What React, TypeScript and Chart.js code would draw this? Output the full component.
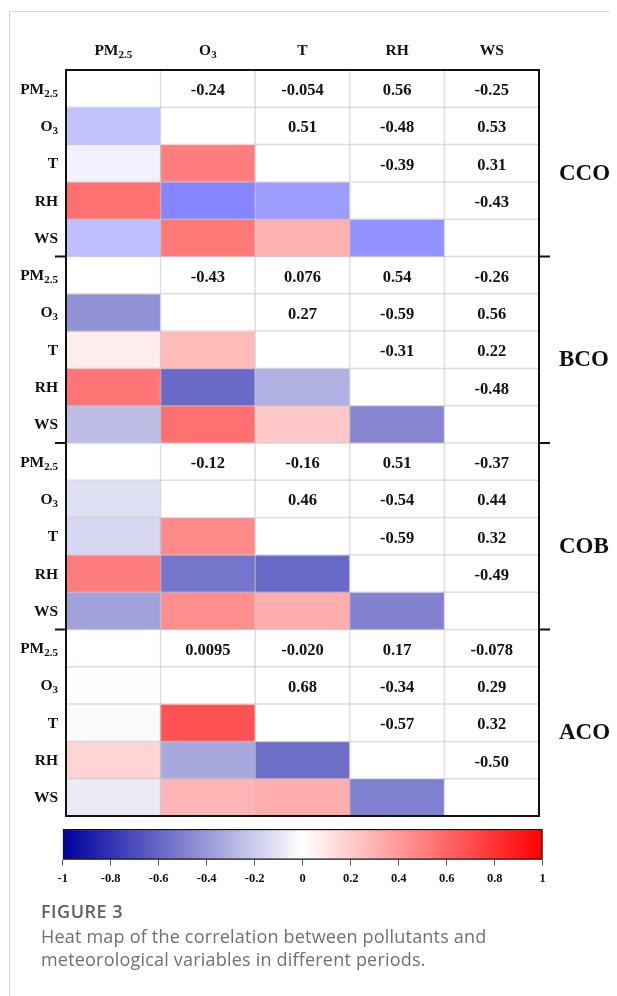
import React, { useEffect, useRef } from "react";
import { Chart, registerables } from "chart.js";
Chart.register(...registerables);

// ---------- data ----------
const variables = ["PM2.5", "O3", "T", "RH", "WS"];
const variableMain = ["PM", "O", "T", "RH", "WS"];
const variableSub = ["2.5", "3", "", "", ""];
const periods = ["CCO", "BCO", "COB", "ACO"];
// upper-triangle pairs, in order:
// (PM,O3) (PM,T) (PM,RH) (PM,WS) (O3,T) (O3,RH) (O3,WS) (T,RH) (T,WS) (RH,WS)
const ccoValues = [-0.24, -0.054, 0.56, -0.25, 0.51, -0.48, 0.53, -0.39, 0.31, -0.43];
const bcoValues = [-0.43, 0.076, 0.54, -0.26, 0.27, -0.59, 0.56, -0.31, 0.22, -0.48];
const cobValues = [-0.12, -0.16, 0.51, -0.37, 0.46, -0.54, 0.44, -0.59, 0.32, -0.49];
const acoValues = [0.0095, -0.02, 0.17, -0.078, 0.68, -0.34, 0.29, -0.57, 0.32, -0.5];
const periodValues = [ccoValues, bcoValues, cobValues, acoValues];
const colorbarTicks = [-1, -0.8, -0.6, -0.4, -0.2, 0, 0.2, 0.4, 0.6, 0.8, 1];
const colorbarTickLabels = ["-1", "-0.8", "-0.6", "-0.4", "-0.2", "0", "0.2", "0.4", "0.6", "0.8", "1"];

// ---------- helpers ----------
const NEG_END_BY_PERIOD = [
  [0, 0, 255],
  [0, 0, 160],
  [0, 0, 160],
  [0, 0, 160],
];
const POS_END = [255, 0, 0];

function mixColor(v: number, p: number) {
  const a = Math.min(1, Math.abs(v));
  const end = v < 0 ? NEG_END_BY_PERIOD[p] : POS_END;
  const c = end.map((e) => Math.round(255 + (e - 255) * a));
  return `rgb(${c[0]},${c[1]},${c[2]})`;
}

function buildMatrix(vals: number[]) {
  const n = variables.length;
  const m: (number | null)[][] = Array.from({ length: n }, () => Array(n).fill(null));
  let k = 0;
  for (let i = 0; i < n; i++) {
    for (let j = i + 1; j < n; j++) {
      m[i][j] = vals[k];
      m[j][i] = vals[k];
      k++;
    }
  }
  return m;
}
const matrices = periodValues.map(buildMatrix);

const SERIF = '"Liberation Serif", "Times New Roman", serif';

function drawSubLabel(
  ctx: CanvasRenderingContext2D,
  main: string,
  sub: string,
  x: number,
  baseline: number,
  align: "right" | "center",
  size: number,
  subSize: number
) {
  ctx.font = `bold ${size}px ${SERIF}`;
  const mw = ctx.measureText(main).width;
  ctx.font = `bold ${subSize}px ${SERIF}`;
  const sw = sub ? ctx.measureText(sub).width : 0;
  const total = mw + sw;
  const start = align === "right" ? x - total : x - total / 2;
  ctx.textAlign = "left";
  ctx.textBaseline = "alphabetic";
  ctx.font = `bold ${size}px ${SERIF}`;
  ctx.fillText(main, start, baseline);
  if (sub) {
    ctx.font = `bold ${subSize}px ${SERIF}`;
    ctx.fillText(sub, start + mw, baseline + 3);
  }
}

const overlayPlugin = {
  id: "heatOverlay",
  afterDatasetsDraw(chart: any) {
    const { ctx, chartArea } = chart;
    const xs = chart.scales.x;
    const ys = chart.scales.y;
    const n = variables.length;
    const colW = xs.getPixelForValue(1) - xs.getPixelForValue(0);
    const colLeft = (j: number) => xs.getPixelForValue(j) - colW / 2;
    const totalRows = periods.length * n;
    ctx.save();

    // light cell grid
    ctx.strokeStyle = "rgba(200,200,200,0.6)";
    ctx.lineWidth = 1.5;
    for (let j = 1; j < n; j++) {
      const x = colLeft(j);
      ctx.beginPath();
      ctx.moveTo(x, chartArea.top);
      ctx.lineTo(x, chartArea.bottom);
      ctx.stroke();
    }
    for (let r = 1; r < totalRows; r++) {
      const y = ys.getPixelForValue(r);
      ctx.beginPath();
      ctx.moveTo(chartArea.left, y);
      ctx.lineTo(chartArea.right, y);
      ctx.stroke();
    }

    // values in upper triangle
    ctx.fillStyle = "#111";
    ctx.font = `bold 16.5px ${SERIF}`;
    ctx.textAlign = "center";
    ctx.textBaseline = "alphabetic";
    matrices.forEach((m, p) => {
      for (let i = 0; i < n; i++) {
        for (let j = i + 1; j < n; j++) {
          const v = m[i][j] as number;
          const r = p * n + i;
          const cy = (ys.getPixelForValue(r) + ys.getPixelForValue(r + 1)) / 2;
          ctx.fillText(v.toPrecision(2), xs.getPixelForValue(j), cy + 6.5);
        }
      }
    });

    // frame
    ctx.strokeStyle = "#111";
    ctx.lineWidth = 2;
    ctx.strokeRect(chartArea.left, chartArea.top, chartArea.right - chartArea.left, chartArea.bottom - chartArea.top);

    // block separators
    for (let p = 1; p < periods.length; p++) {
      const y = ys.getPixelForValue(p * n);
      ctx.beginPath();
      ctx.moveTo(chartArea.left - 11, y);
      ctx.lineTo(chartArea.left, y);
      ctx.moveTo(chartArea.right, y);
      ctx.lineTo(chartArea.right + 11, y);
      ctx.stroke();
    }

    // row labels
    ctx.fillStyle = "#111";
    for (let p = 0; p < periods.length; p++) {
      for (let i = 0; i < n; i++) {
        const r = p * n + i;
        const cy = (ys.getPixelForValue(r) + ys.getPixelForValue(r + 1)) / 2;
        drawSubLabel(ctx, variableMain[i], variableSub[i], chartArea.left - 8, cy + 5, "right", 15.5, 11);
      }
    }
    // column headers
    for (let j = 0; j < n; j++) {
      drawSubLabel(ctx, variableMain[j], variableSub[j], xs.getPixelForValue(j), chartArea.top - 15, "center", 15.5, 11);
    }
    // period labels
    ctx.font = `bold 23px ${SERIF}`;
    ctx.textAlign = "left";
    ctx.textBaseline = "alphabetic";
    periods.forEach((name, p) => {
      const cy = (ys.getPixelForValue(p * n) + ys.getPixelForValue((p + 1) * n)) / 2;
      ctx.fillText(name, chartArea.right + 20, cy + 16.5);
    });
    ctx.restore();
  },
};

function HeatmapCanvas() {
  const ref = useRef<HTMLCanvasElement | null>(null);
  useEffect(() => {
    if (!ref.current) return;
    const n = variables.length;
    const datasets: any[] = [];
    matrices.forEach((m, p) => {
      for (let i = 0; i < n; i++) {
        const r = p * n + i;
        datasets.push({
          label: `${periods[p]}-${variables[i]}`,
          data: variables.map(() => [r, r + 1]),
          backgroundColor: variables.map((_, j) => (j < i ? mixColor(m[i][j] as number, p) : "#ffffff")),
          borderWidth: 0,
          grouped: false,
          barPercentage: 1,
          categoryPercentage: 1,
        });
      }
    });
    const chart = new Chart(ref.current, {
      type: "bar",
      data: { labels: variables, datasets },
      options: {
        animation: false,
        responsive: false,
        events: [],
        layout: { padding: { left: 58, right: 78, top: 62, bottom: 7 } },
        plugins: { legend: { display: false }, tooltip: { enabled: false } },
        scales: {
          x: { type: "category", display: false, offset: true },
          y: { type: "linear", display: false, min: 0, max: periods.length * n, reverse: true },
        },
      },
      plugins: [overlayPlugin],
    } as any);
    return () => chart.destroy();
  }, []);
  return <canvas ref={ref} width={609} height={815} style={{ position: "absolute", left: 0, top: 0 }} />;
}

function ColorbarCanvas() {
  const ref = useRef<HTMLCanvasElement | null>(null);
  useEffect(() => {
    if (!ref.current) return;
    const chart = new Chart(ref.current, {
      type: "bar",
      data: {
        labels: ["r"],
        datasets: [
          {
            data: [[colorbarTicks[0], colorbarTicks[colorbarTicks.length - 1]]],
            backgroundColor: (c: any) => {
              const ch = c.chart;
              if (!ch.chartArea) return "#fff";
              const xs = ch.scales.x;
              const g = ch.ctx.createLinearGradient(xs.getPixelForValue(-1), 0, xs.getPixelForValue(1), 0);
              g.addColorStop(0, "rgb(0,0,160)");
              g.addColorStop(0.5, "rgb(255,255,255)");
              g.addColorStop(1, "rgb(255,0,0)");
              return g;
            },
            borderColor: "#111",
            borderWidth: 1.5,
            borderSkipped: false,
            barPercentage: 1,
            categoryPercentage: 1,
          },
        ],
      },
      options: {
        indexAxis: "y",
        animation: false,
        responsive: false,
        events: [],
        layout: { padding: { left: 54.7, right: 74.3, top: 9, bottom: 9.6 } },
        plugins: { legend: { display: false }, tooltip: { enabled: false } },
        scales: {
          x: {
            type: "linear",
            min: -1,
            max: 1,
            afterBuildTicks: (s: any) => {
              s.ticks = colorbarTicks.map((v) => ({ value: v }));
            },
            ticks: {
              callback: (_v: any, i: number) => colorbarTickLabels[i],
              font: { family: SERIF, size: 12.5, weight: "bold" },
              color: "#111",
              padding: 6,
              maxRotation: 0,
              autoSkip: false,
            },
            grid: { drawOnChartArea: false, drawTicks: true, tickLength: 6, color: "#555", lineWidth: 1 },
            border: { display: false },
          },
          y: { display: false },
        },
      },
    } as any);
    return () => chart.destroy();
  }, []);
  return <canvas ref={ref} width={609} height={80} style={{ position: "absolute", left: 0, top: 812 }} />;
}

export default function App() {
  return (
    <div style={{ position: "relative", width: 609, height: 988 }}>
      <div
        style={{
          position: "absolute",
          left: 1,
          top: 3,
          width: 608,
          height: 985,
          borderTop: "1px solid #d4d4d4",
          borderLeft: "1px solid #d4d4d4",
        }}
      />
      <HeatmapCanvas />
      <ColorbarCanvas />
      <div
        style={{
          position: "absolute",
          left: 33,
          top: 892,
          fontFamily: '"Open Sans", sans-serif',
          color: "#707070",
          fontSize: 18,
          lineHeight: "23px",
          letterSpacing: "0.2px",
        }}
      >
        <div style={{ fontWeight: 600, color: "#606060", letterSpacing: "0.5px", marginBottom: 2 }}>FIGURE 3</div>
        <div>Heat map of the correlation between pollutants and</div>
        <div>meteorological variables in different periods.</div>
      </div>
    </div>
  );
}
